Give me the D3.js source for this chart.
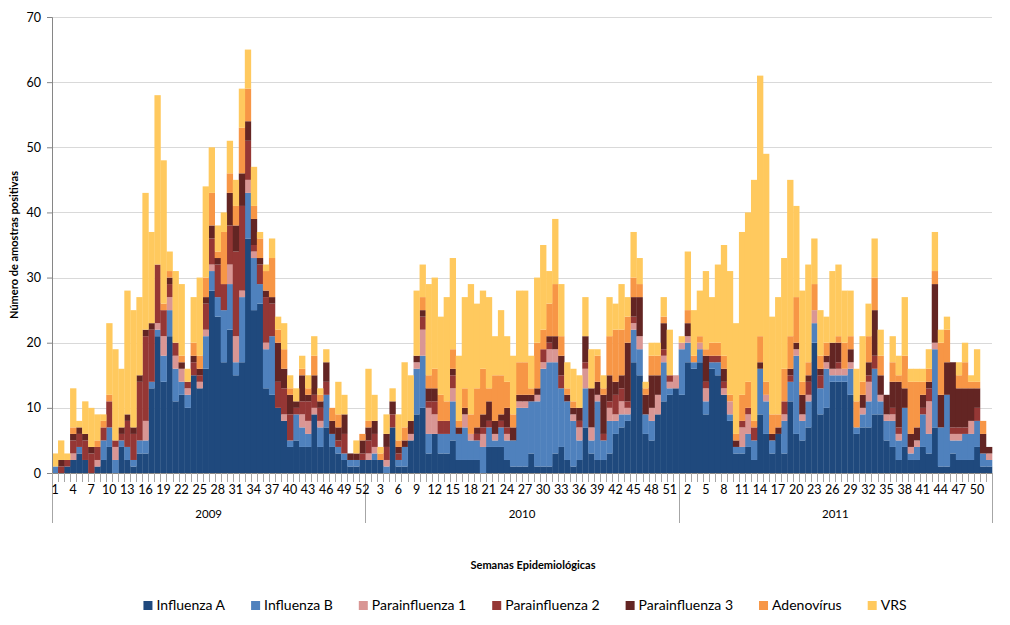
<!DOCTYPE html>
<html><head><meta charset="utf-8">
<script src="https://cdn.jsdelivr.net/npm/d3@7"></script>
<style>
html,body{margin:0;padding:0;background:#fff;}
svg{display:block;font-family:Lato,"Open Sans",sans-serif;}
</style></head>
<body>
<svg id="chart" width="1010" height="625"></svg>
<script>
// ---------- DATA ----------
const years = ["2009", "2010", "2011"];
const weeksPerYear = 52;
const seriesNames = ["Influenza A", "Influenza B", "Parainfluenza 1", "Parainfluenza 2", "Parainfluenza 3", "Adenovírus", "VRS"];
const yTicks = [0, 10, 20, 30, 40, 50, 60, 70];

const influenzaA = [
  // 2009
  0,0,1,2,3,2,0,1,2,4,0,4,2,1,3,3,13,21,14,21,11,12,10,15,13,16,28,24,17,22,15,17,36,25,26,13,12,10,8,4,5,4,4,9,4,7,4,3,2,1,1,2,
  // 2010
  2,2,2,0,7,1,1,5,9,10,3,6,3,3,5,2,2,2,2,0,4,4,4,2,1,1,1,3,1,1,1,3,4,2,1,2,7,3,2,2,3,6,7,8,17,15,6,5,9,11,12,13,
  // 2011
  12,17,16,17,9,16,15,12,8,3,3,4,2,9,6,3,6,3,11,6,5,7,20,9,10,14,14,14,12,6,7,7,9,9,5,4,2,4,2,2,4,3,7,1,1,3,2,2,2,4,1,1
];
const influenzaB = [
  1,0,0,0,1,0,0,0,3,3,2,1,2,1,2,2,1,1,4,4,5,2,2,0,0,5,3,3,8,7,2,10,7,8,3,6,9,0,0,1,4,3,2,0,3,5,2,1,1,1,1,0,
  0,1,0,1,0,1,3,0,7,8,3,0,3,3,6,4,5,3,3,4,3,1,3,3,4,9,9,8,10,15,16,14,9,9,7,3,6,2,9,3,5,2,2,1,5,4,3,3,0,6,1,0,
  7,3,1,2,2,1,2,0,1,1,1,2,3,7,5,2,0,5,3,12,3,4,3,4,6,1,1,1,4,1,2,4,7,2,3,4,3,6,1,2,5,3,12,6,11,2,3,4,4,4,2,1
];
const parainfluenza1 = [
  0,0,0,1,0,0,0,1,0,0,2,0,0,0,0,3,0,1,3,2,2,2,1,0,1,1,1,0,0,3,4,1,2,1,0,1,0,0,1,0,0,2,2,1,1,0,0,0,0,0,0,0,
  1,1,0,1,0,0,0,1,1,4,4,3,0,0,2,0,2,1,0,2,0,1,0,1,0,1,1,0,1,1,2,2,0,0,1,2,3,2,1,0,2,1,2,1,1,2,0,2,3,1,1,2,
  1,1,0,1,2,0,0,1,2,0,3,3,0,0,1,0,0,1,0,1,1,1,2,0,1,1,1,1,1,0,1,3,0,1,1,1,1,0,1,1,0,5,1,0,0,1,1,0,2,0,0,1
];
const parainfluenza2 = [
  0,1,1,2,2,3,3,2,2,4,1,1,4,4,9,13,8,9,4,2,2,0,1,2,1,4,4,5,4,6,13,13,6,1,3,7,5,4,4,4,1,2,3,2,2,2,0,1,3,0,0,1,
  2,2,0,2,2,1,0,0,0,2,1,2,2,2,2,0,0,0,1,1,1,0,1,1,0,0,0,0,0,2,1,0,2,0,0,1,1,0,0,1,1,3,2,1,1,0,0,0,0,1,1,0,
  0,0,0,0,1,1,1,1,0,0,1,1,2,0,0,0,0,2,1,0,0,2,0,2,0,0,1,0,0,0,0,1,2,0,0,1,1,0,0,0,1,2,0,0,0,1,1,1,0,2,0,0
];
const parainfluenza3 = [
  0,1,0,1,1,1,1,0,0,0,0,1,1,1,1,1,1,0,0,1,0,1,0,1,1,1,2,1,0,5,4,5,3,4,1,1,1,6,3,3,1,4,1,3,1,3,2,2,3,1,1,2,
  2,2,0,2,2,1,1,2,1,1,2,2,0,0,1,1,1,0,1,2,3,2,1,3,2,1,1,1,1,0,1,2,3,1,1,2,4,6,2,6,4,2,2,9,3,6,3,5,3,4,0,0,
  0,2,0,0,4,0,0,2,0,1,0,0,0,1,0,1,1,0,1,1,3,1,0,1,1,4,3,0,2,0,2,2,7,3,3,4,7,3,2,2,2,1,9,5,5,10,6,6,5,3,3,1
];
const adenovirus = [
  0,0,0,1,0,0,0,1,1,1,0,0,0,0,0,0,0,0,1,1,0,1,0,2,2,3,5,1,8,3,3,7,5,2,3,3,6,2,3,1,0,1,1,3,1,0,2,2,0,0,0,1,
  1,0,1,0,0,1,2,0,0,2,2,3,4,3,3,1,3,3,6,7,2,7,6,4,2,5,5,1,7,3,5,8,3,1,1,0,0,0,4,1,6,8,7,4,3,2,1,3,3,1,0,0,
  0,2,1,1,1,2,2,2,1,1,4,4,1,4,2,3,2,5,5,7,2,2,4,2,2,0,1,4,2,4,2,4,5,3,0,3,1,5,8,7,2,2,2,8,5,0,2,4,1,1,2,0
];
const vrs = [
  2,3,1,6,1,5,6,4,1,11,14,9,19,18,12,21,14,26,22,3,11,11,2,7,12,14,7,4,3,5,4,6,6,6,1,1,3,2,4,2,2,2,2,3,1,2,0,5,3,0,2,0,
  8,4,1,3,2,4,10,7,10,5,14,14,12,16,14,10,14,20,13,12,14,6,10,7,9,11,11,5,10,13,5,10,8,4,5,5,6,6,1,2,6,4,7,3,7,4,1,2,2,3,7,0,
  1,9,7,7,12,7,12,17,19,17,25,26,37,40,35,15,18,17,24,14,14,15,7,7,4,11,11,8,7,5,7,5,6,4,0,4,3,9,2,2,2,3,6,2,2,0,2,3,1,5,0,0
];

// ---------- STYLE ----------
const colors = ["#1F497D", "#4F81BD", "#D99694", "#953735", "#632523", "#F79646", "#FFC95E"];

const svg = d3.select("#chart");
const plot = {left: 52, right: 992, top: 17, bottom: 473};

const seriesData = [influenzaA, influenzaB, parainfluenza1, parainfluenza2, parainfluenza3, adenovirus, vrs];
const n = influenzaA.length;
const rows = d3.range(n).map(i => {
  const r = {i: i, year: years[Math.floor(i / weeksPerYear)], week: (i % weeksPerYear) + 1};
  seriesNames.forEach((s, k) => r[s] = seriesData[k][i]);
  return r;
});

const x = d3.scaleBand().domain(d3.range(n)).range([plot.left, plot.right]).padding(0);
const xEdge = d3.scaleLinear().domain([0, n]).range([plot.left, plot.right]);
const y = d3.scaleLinear().domain([0, 70]).range([plot.bottom, plot.top]);

// gridlines
svg.append("g").selectAll("line").data(yTicks.filter(t => t > 0)).join("line")
  .attr("x1", plot.left).attr("x2", plot.right)
  .attr("y1", d => Math.round(y(d)) + 0.5).attr("y2", d => Math.round(y(d)) + 0.5)
  .attr("stroke", "#D9D9D9").attr("stroke-width", 1);

// stacked bars
const stack = d3.stack().keys(seriesNames);
const stacked = stack(rows);
svg.append("g").selectAll("g").data(stacked).join("g")
  .attr("fill", (d, k) => colors[k])
  .selectAll("rect").data(d => d.filter(p => p[1] > p[0])).join("rect")
  .attr("x", d => x(d.data.i))
  .attr("width", x.bandwidth() + 0.3)
  .attr("y", d => y(d[1]))
  .attr("height", d => y(d[0]) - y(d[1]));

// y axis
const yAxis = svg.append("g").attr("transform", `translate(${plot.left},0)`)
  .call(d3.axisLeft(y).tickValues(yTicks).tickSize(5).tickPadding(6));
yAxis.select(".domain").attr("stroke", "#868686");
yAxis.selectAll(".tick line").attr("stroke", "#868686");
yAxis.selectAll("text").attr("font-size", 12.5).attr("font-family", "Lato, sans-serif").attr("fill", "#000");

// x axis baseline
svg.append("line").attr("x1", plot.left).attr("x2", plot.right)
  .attr("y1", plot.bottom + 0.5).attr("y2", plot.bottom + 0.5).attr("stroke", "#868686");

// category boundary ticks
svg.append("g").selectAll("line").data(d3.range(n + 1)).join("line")
  .attr("x1", d => Math.round(xEdge(d)) + 0.5).attr("x2", d => Math.round(xEdge(d)) + 0.5)
  .attr("y1", plot.bottom).attr("y2", d => (d % weeksPerYear === 0) ? plot.bottom + 50 : plot.bottom + 9)
  .attr("stroke", "#A6A6A6");

// week labels (every 3rd category)
const xAxis = svg.append("g").attr("transform", `translate(0,${plot.bottom})`)
  .call(d3.axisBottom(x).tickValues(d3.range(0, n, 3)).tickFormat(i => rows[i].week).tickSize(0).tickPadding(12));
xAxis.select(".domain").remove();
xAxis.selectAll("text").attr("font-size", 12.5).attr("font-family", "Lato, sans-serif").attr("fill", "#000");

// year labels
svg.append("g").selectAll("text").data(years).join("text")
  .attr("x", (d, k) => (xEdge(k * weeksPerYear) + xEdge((k + 1) * weeksPerYear)) / 2)
  .attr("y", plot.bottom + 45)
  .attr("text-anchor", "middle").attr("font-size", 11.5).text(d => d);

// axis titles
svg.append("text").attr("transform", "translate(18,245) rotate(-90)")
  .attr("text-anchor", "middle").attr("font-size", 11).attr("font-weight", "bold")
  .text("Número de amostras positivas");
svg.append("text").attr("x", 533).attr("y", 569)
  .attr("text-anchor", "middle").attr("font-size", 11).attr("font-weight", "bold")
  .text("Semanas Epidemiológicas");

// legend
const legend = svg.append("g");
const items = legend.selectAll("g").data(seriesNames).join("g");
items.append("rect").attr("width", 9).attr("height", 9).attr("y", -9).attr("fill", (d, k) => colors[k]);
items.append("text").attr("x", 13).attr("y", 0).attr("font-size", 14).text(d => d);
const gap = 26;
let widths = [];
items.each(function() { widths.push(13 + this.querySelector("text").getComputedTextLength()); });
const total = d3.sum(widths) + gap * (widths.length - 1);
let cx = 525 - total / 2;
items.attr("transform", (d, k) => { const t = `translate(${cx},${610})`; cx += widths[k] + gap; return t; });
</script>
</body></html>
